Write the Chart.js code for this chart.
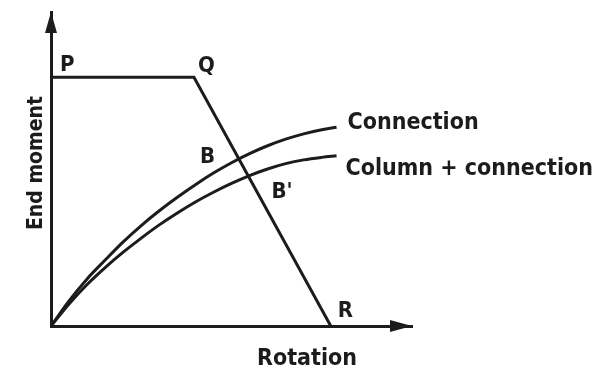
<!DOCTYPE html>
<html>
<head>
<meta charset="utf-8">
<title>End moment vs rotation</title>
<script src="https://cdn.jsdelivr.net/npm/chart.js@4.4.1/dist/chart.umd.min.js"></script>
<style>
    html, body { margin: 0; padding: 0; background: #fff; }
    #wrap { width: 603px; height: 367px; }
</style>
</head>
<body>
<div id="wrap"><canvas id="Moment_Rotation_Chart" width="603" height="367"></canvas></div>
<script>
// rotation values shared by both curves
const rotation = [0, 5, 10, 15, 20, 25, 30, 35, 40, 45, 50, 55, 60, 65, 70, 75, 79.1];
// moment - rotation curve of the connection alone
const connectionMoment = [0, 8, 15, 21, 26.8, 32, 36.7, 41, 45, 48.7, 52, 54.9, 57.4, 59.5, 61.2, 62.5, 63.3];
// moment - rotation curve of column + connection
const columnConnMoment = [0, 7, 13.2, 18.6, 23.5, 28, 32.2, 36, 39.5, 42.6, 45.4, 47.9, 50, 51.7, 52.9, 53.7, 54.2];

// beam line P - Q - R
const beamLineX = [0, 39.6, 77.5];
const beamLineY = [79.2, 79.2, 0];

// named points
const markNames = ['P', 'Q', 'R', 'B', "B'"];
const markX = [0, 39.6, 77.5, 51.8, 54.7];
const markY = [79.2, 79.2, 0, 53.3, 47.5];

const curveNames = ['Connection', 'Column + connection'];
const axisTitleX = 'Rotation';
const axisTitleY = 'End moment';

var moment_rotation_chart = (function () {
    var chartInstance;
    const ink = '#1c1c1c';
    const fontFamily = "'DejaVu Sans Condensed', 'Liberation Sans Narrow', 'DejaVu Sans', sans-serif";

    function toPoints(xs, ys) {
        return xs.map(function (x, i) { return { x: x, y: ys[i] }; });
    }

    // arrow heads, point names, curve names and axis titles
    const annotatePlugin = {
        id: 'annotate',
        afterDraw: function (chart) {
            const ctx = chart.ctx;
            const xs = chart.scales.x, ys = chart.scales.y;
            const area = chart.chartArea;
            ctx.save();
            ctx.fillStyle = ink;

            // arrow on x axis
            ctx.beginPath();
            ctx.moveTo(area.right, area.bottom);
            ctx.lineTo(area.right - 22, area.bottom - 6);
            ctx.lineTo(area.right - 22, area.bottom + 6);
            ctx.closePath();
            ctx.fill();
            // arrow on y axis
            ctx.beginPath();
            ctx.moveTo(area.left, area.top);
            ctx.lineTo(area.left - 6, area.top + 21);
            ctx.lineTo(area.left + 6, area.top + 21);
            ctx.closePath();
            ctx.fill();

            // point names
            const offsets = [[9, -6], [4, -5], [7, -9], [-38, 4], [23, 21]];
            ctx.font = 'bold 22px ' + fontFamily;
            ctx.textBaseline = 'alphabetic';
            ctx.textAlign = 'left';
            markNames.forEach(function (name, i) {
                const px = xs.getPixelForValue(markX[i]);
                const py = ys.getPixelForValue(markY[i]);
                ctx.fillText(name, px + offsets[i][0], py + offsets[i][1]);
            });

            // curve names next to the curve ends
            const last = rotation.length - 1;
            ctx.font = 'bold 23px ' + fontFamily;
            ctx.fillText(curveNames[0], xs.getPixelForValue(rotation[last]) + 11, ys.getPixelForValue(connectionMoment[last]) + 2);
            ctx.fillText(curveNames[1], xs.getPixelForValue(rotation[last]) + 9, ys.getPixelForValue(columnConnMoment[last]) + 19);

            // axis titles
            ctx.textAlign = 'center';
            ctx.font = 'bold 23px ' + fontFamily;
            ctx.fillText(axisTitleX, area.left + 256, area.bottom + 39);
            ctx.translate(area.left - 9, (area.top + area.bottom) / 2 - 6);
            ctx.rotate(-Math.PI / 2);
            ctx.font = 'bold 21px ' + fontFamily;
            ctx.fillText(axisTitleY, 0, 0);
            ctx.restore();
        }
    };

    function lineSet(label, data, smooth) {
        return {
            label: label,
            data: data,
            showLine: true,
            borderColor: ink,
            borderWidth: 3,
            pointRadius: 0,
            fill: false,
            clip: false,
            cubicInterpolationMode: smooth ? 'monotone' : 'default',
            tension: 0
        };
    }

    function load_chart() {
        const ctx = document.getElementById('Moment_Rotation_Chart').getContext('2d');
        if (chartInstance) {
            chartInstance.destroy();
        }
        chartInstance = new Chart(ctx, {
            type: 'scatter',
            data: {
                datasets: [
                    lineSet('P-Q-R', toPoints(beamLineX, beamLineY), false),
                    lineSet(curveNames[0], toPoints(rotation, connectionMoment), true),
                    lineSet(curveNames[1], toPoints(rotation, columnConnMoment), true)
                ]
            },
            options: {
                responsive: false,
                animation: false,
                layout: { padding: { left: 51, top: 12, right: 191, bottom: 41 } },
                scales: {
                    x: {
                        type: 'linear', min: 0, max: 100,
                        ticks: { display: false },
                        grid: { display: false, drawTicks: false },
                        border: { display: true, color: ink, width: 3 }
                    },
                    y: {
                        type: 'linear', min: 0, max: 100,
                        ticks: { display: false },
                        grid: { display: false, drawTicks: false },
                        border: { display: true, color: ink, width: 3 }
                    }
                },
                plugins: {
                    legend: { display: false },
                    tooltip: { enabled: false }
                }
            },
            plugins: [annotatePlugin]
        });
    }

    return {
        init: function () {
            load_chart();
        }
    };
})();

moment_rotation_chart.init();
</script>
</body>
</html>
